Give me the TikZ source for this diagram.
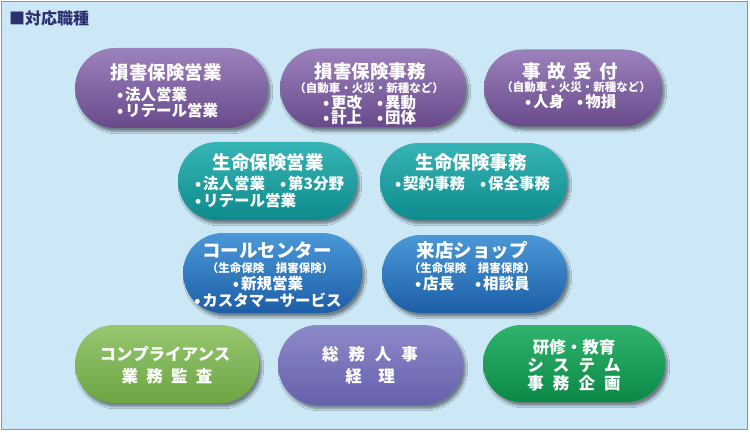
\documentclass[tikz,border=0pt]{standalone}
\usepackage{fontspec}
\setmainfont{Noto Sans CJK JP}
\usetikzlibrary{shapes.misc,shadows.blur}
\definecolor{bgblue}{HTML}{CCE8F7}
\definecolor{frame}{HTML}{8E939C}
\definecolor{titlec}{HTML}{2C306E}
\definecolor{puT}{HTML}{9C82BC}
\definecolor{puB}{HTML}{684A8B}
\definecolor{teT}{HTML}{36B4B6}
\definecolor{teB}{HTML}{0E8B8D}
\definecolor{blT}{HTML}{4A98D8}
\definecolor{blB}{HTML}{1D5EA7}
\definecolor{grT}{HTML}{98C770}
\definecolor{grB}{HTML}{6CA544}
\definecolor{viT}{HTML}{8E8AC9}
\definecolor{viB}{HTML}{6560AB}
\definecolor{gnT}{HTML}{2FB46C}
\definecolor{gnB}{HTML}{0B8946}
\newcommand{\bul}{•\hspace{0.12em}}
\tikzset{
  pill/.style={rounded rectangle, inner sep=0pt, draw=none,
    blur shadow={shadow xshift=2.5pt, shadow yshift=-3.5pt, shadow blur steps=6,
      shadow blur extra rounding=2pt, shadow opacity=45}},
  purplepill/.style={pill, top color=puT, bottom color=puB},
  tealpill/.style={pill, top color=teT, bottom color=teB},
  bluepill/.style={pill, top color=blT, bottom color=blB},
  greenpill/.style={pill, top color=grT, bottom color=grB},
  violetpill/.style={pill, top color=viT, bottom color=viB},
  emeraldpill/.style={pill, top color=gnT, bottom color=gnB},
  hd/.style={text=white, inner sep=0pt, font=\bfseries\fontsize{18.5}{20}\selectfont},
  sb/.style={text=white, inner sep=0pt, font=\bfseries\fontsize{15.5}{17}\selectfont},
  pr/.style={text=white, inner sep=0pt, font=\bfseries\fontsize{11.5}{13}\selectfont},
  lw/.style={text=white, inner sep=0pt, font=\bfseries\fontsize{16.5}{18}\selectfont},
  titletext/.style={text=titlec, inner sep=0pt, font=\bfseries\fontsize{16}{18}\selectfont},
}
\begin{document}
\begin{tikzpicture}[x=1pt,y=-1pt]
\useasboundingbox (0,0) rectangle (750,433);
\fill[white] (0,0) rectangle (750,433);
\draw[frame, line width=1.5pt, fill=bgblue] (1.5,1.5) rectangle (747.5,429.5);
\node[titletext, anchor=west] (title) at (9,18.5) {■対応職種};

% Row 1
\node[purplepill, minimum width=193pt, minimum height=80pt] (p1) at (171.5,88) {};
\node[hd] (p1h) at (166,72) {損害保険営業};
\node[sb, anchor=west] (p1a) at (117,94.5) {\bul 法人営業};
\node[sb, anchor=west] (p1b) at (117,110.5) {\bul リテール営業};

\node[purplepill, minimum width=186pt, minimum height=79pt] (p2) at (373,88) {};
\node[hd] (p2h) at (370,72) {損害保険事務};
\node[pr] (p2p) at (369,88) {（自動車・火災・新種など）};
\node[sb, anchor=west] (p2a) at (323,102.5) {\bul 更改};
\node[sb, anchor=west] (p2b) at (377,102.5) {\bul 異動};
\node[sb, anchor=west] (p2c) at (323,118) {\bul 計上};
\node[sb, anchor=west] (p2d) at (377,118) {\bul 団体};

\node[purplepill, minimum width=178pt, minimum height=77pt] (p3) at (573,88) {};
\node[hd] (p3h) at (570,71) {事\hspace{0.38em}故\hspace{0.38em}受\hspace{0.38em}付};
\node[pr] (p3p) at (576,87) {（自動車・火災・新種など）};
\node[sb, anchor=west] (p3a) at (525,102) {\bul 人身};
\node[sb, anchor=west] (p3b) at (577,102) {\bul 物損};

% Row 2
\node[tealpill, minimum width=179pt, minimum height=78pt] (p4) at (267.5,181) {};
\node[hd] (p4h) at (268,162.5) {生命保険営業};
\node[sb, anchor=west] (p4a) at (195,184) {\bul 法人営業};
\node[sb, anchor=west] (p4b) at (280,184) {\bul 第3分野};
\node[sb, anchor=west] (p4c) at (195,201) {\bul リテール営業};

\node[tealpill, minimum width=187pt, minimum height=77pt] (p5) at (473.5,181.5) {};
\node[hd] (p5h) at (471,163) {生命保険事務};
\node[sb, anchor=west] (p5a) at (395,184) {\bul 契約事務};
\node[sb, anchor=west] (p5b) at (480,184) {\bul 保全事務};

% Row 3
\node[bluepill, minimum width=179pt, minimum height=80pt] (p6) at (272.5,273) {};
\node[hd] (p6h) at (267,250) {コールセンター};
\node[pr] (p6p) at (270,268.5) {（生命保険　損害保険）};
\node[sb] (p6a) at (268,284) {\bul 新規営業};
\node[sb] (p6b) at (268,300) {\bul カスタマーサービス};

\node[bluepill, minimum width=185pt, minimum height=78pt] (p7) at (474.5,274) {};
\node[hd] (p7h) at (472,250) {来店ショップ};
\node[pr] (p7p) at (472,268.5) {（生命保険　損害保険）};
\node[sb, anchor=west] (p7a) at (415,284) {\bul 店長};
\node[sb, anchor=west] (p7b) at (475,284) {\bul 相談員};

% Row 4
\node[greenpill, minimum width=184pt, minimum height=78pt] (p8) at (167,364) {};
\node[lw] (p8a) at (165,354) {コンプライアンス};
\node[lw] (p8b) at (167,376.5) {業\hspace{0.5em}務\hspace{0.5em}監\hspace{0.5em}査};

\node[violetpill, minimum width=185pt, minimum height=80pt] (p9) at (370.5,365) {};
\node[lw] (p9a) at (370,354) {総\hspace{0.6em}務\hspace{0.6em}人\hspace{0.6em}事};
\node[lw] (p9b) at (370,376) {経\hspace{1em}理};

\node[emeraldpill, minimum width=182pt, minimum height=77pt] (p10) at (574,363.5) {};
\node[lw] (p10a) at (574,347) {研修・教育};
\node[lw] (p10b) at (574,365) {シ\hspace{0.55em}ス\hspace{0.55em}テ\hspace{0.55em}ム};
\node[lw] (p10c) at (574,383) {事\hspace{0.55em}務\hspace{0.55em}企\hspace{0.55em}画};
\end{tikzpicture}
\end{document}
